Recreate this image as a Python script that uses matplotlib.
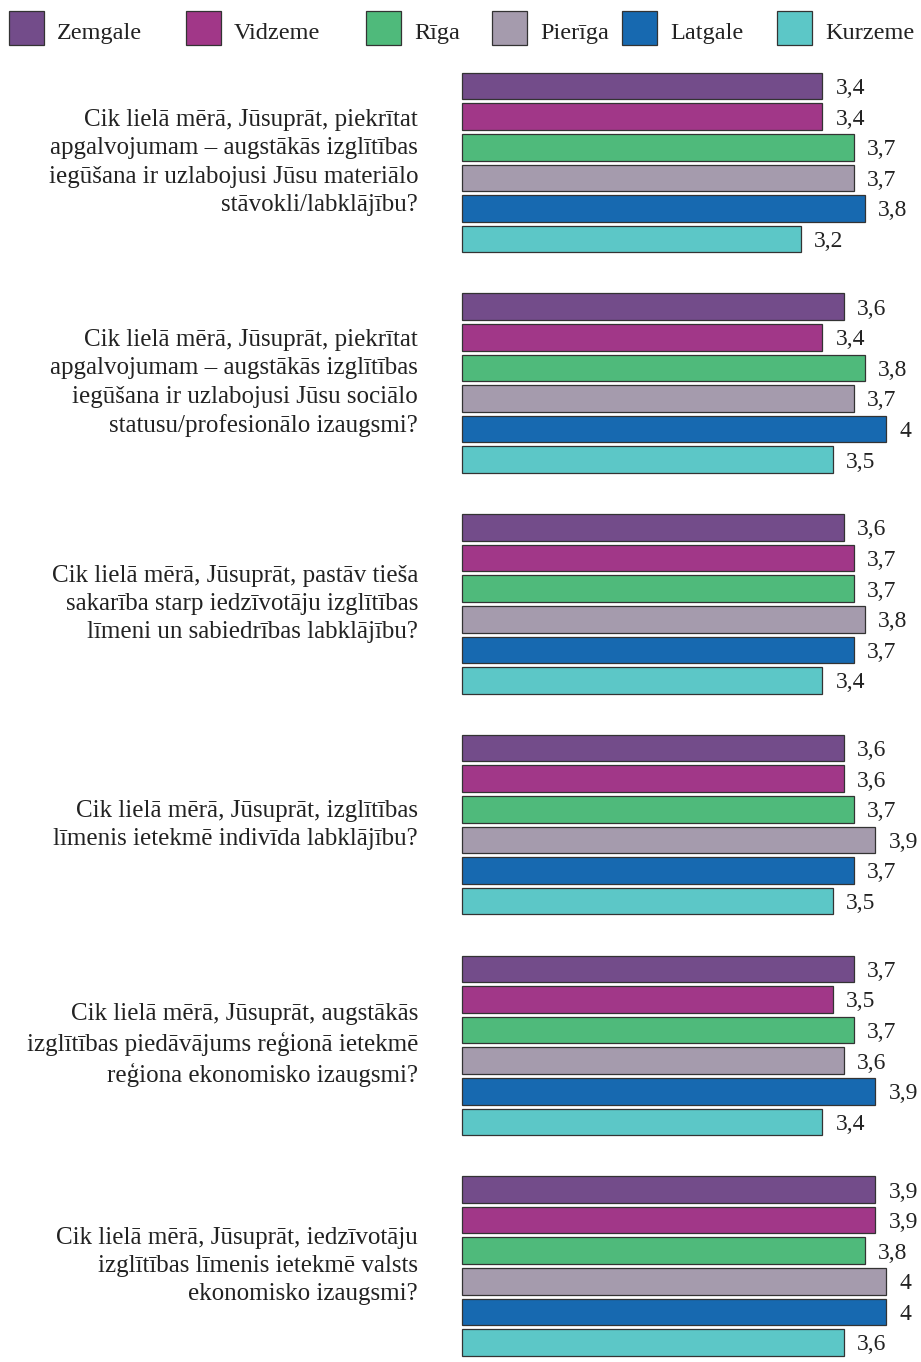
import matplotlib.pyplot as plt
from matplotlib.patches import Rectangle
import matplotlib.transforms as mtransforms

plt.rcParams['font.family'] = ['Liberation Serif', 'DejaVu Serif']

# Data
regions = ['Zemgale', 'Vidzeme', 'Rīga', 'Pierīga', 'Latgale', 'Kurzeme']
colors = ['#734c8a', '#a13788', '#4fba7b', '#a59bad', '#1769b0', '#5cc7c7']

questions = [
    'Cik lielā mērā, Jūsuprāt, piekrītat\napgalvojumam – augstākās izglītības\niegūšana ir uzlabojusi Jūsu materiālo\nstāvokli/labklājību?',
    'Cik lielā mērā, Jūsuprāt, piekrītat\napgalvojumam – augstākās izglītības\niegūšana ir uzlabojusi Jūsu sociālo\nstatusu/profesionālo izaugsmi?',
    'Cik lielā mērā, Jūsuprāt, pastāv tieša\nsakarība starp iedzīvotāju izglītības\nlīmeni un sabiedrības labklājību?',
    'Cik lielā mērā, Jūsuprāt, izglītības\nlīmenis ietekmē indivīda labklājību?',
    'Cik lielā mērā, Jūsuprāt, augstākās\nizglītības piedāvājums reģionā ietekmē\nreģiona ekonomisko izaugsmi?',
    'Cik lielā mērā, Jūsuprāt, iedzīvotāju\nizglītības līmenis ietekmē valsts\nekonomisko izaugsmi?',
]

zemgale = [3.4, 3.6, 3.6, 3.6, 3.7, 3.9]
vidzeme = [3.4, 3.4, 3.7, 3.6, 3.5, 3.9]
riga = [3.7, 3.8, 3.7, 3.7, 3.7, 3.8]
pieriga = [3.7, 3.7, 3.8, 3.9, 3.6, 4.0]
latgale = [3.8, 4.0, 3.7, 3.7, 3.9, 4.0]
kurzeme = [3.2, 3.5, 3.4, 3.5, 3.4, 3.6]
series = [zemgale, vidzeme, riga, pieriga, latgale, kurzeme]

W, H = 921, 1362
fig = plt.figure(figsize=(W / 100, H / 100), dpi=100)
ax = fig.add_axes([0, 0, 1, 1])

# layout in pixels
x0 = 462          # where 0 sits
unit = 106        # pixels per 1.0
ax.set_xlim(-x0 / unit, (W - x0) / unit)
ax.set_ylim(H, 0)
ax.axis('off')

first_top = 72.7
group_pitch = 220.7
bar_pitch = 30.6
bar_h = 26.6
txt = '#222222'

trans = mtransforms.blended_transform_factory(fig.transFigure, ax.transData)
for g, q in enumerate(questions):
    top = first_top + g * group_pitch
    for i, vals in enumerate(series):
        yc = top + i * bar_pitch + bar_h / 2
        v = vals[g]
        ax.barh(yc, v, height=bar_h, color=colors[i], edgecolor='#333333', linewidth=0.9)
        ax.text(v + 13 / unit, yc + 8, f'{v:g}'.replace('.', ','), va='baseline', ha='left',
                fontsize=17, color=txt)
    gc = top + (5 * bar_pitch + bar_h) / 2
    ax.text(418 / W, gc, q, transform=trans, ha='right', va='center', fontsize=18,
            linespacing=1.36, color=txt)

# legend
leg_x = [9, 186, 366, 492, 622, 777]
for name, c, lx in zip(regions, colors, leg_x):
    ax.add_patch(Rectangle(((lx - x0) / unit, 11), 35 / unit, 34, transform=ax.transData,
                           facecolor=c, edgecolor='#333333', linewidth=0.9, clip_on=False))
    ax.text((lx + 48 - x0) / unit, 39, name, ha='left', va='baseline', fontsize=17.5,
            color=txt)

fig.savefig('out.png', dpi=100)
